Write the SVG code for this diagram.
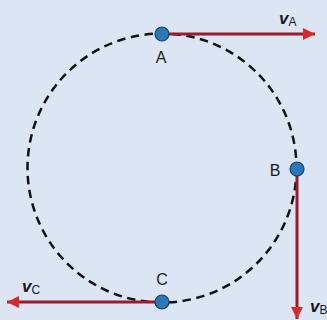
<svg xmlns="http://www.w3.org/2000/svg" width="327" height="320" viewBox="0 0 327 320">
<defs>
<style>
.lbl{font-family:"Liberation Sans",Arial,sans-serif;font-size:16px;fill:#1a1a1a}
.v{font-family:"Liberation Sans",Arial,sans-serif;font-size:17px;font-weight:bold;font-style:italic;fill:#1a1a1a}
.sub{font-size:12px;font-weight:normal;font-style:normal}
.vec{stroke:#9e1b2c;stroke-width:3;fill:none}
.dot{fill:#2a78b8;stroke:#14406a;stroke-width:1.2}
</style>
<marker id="ah" viewBox="0 0 10 10" refX="10" refY="5" markerWidth="7.5" markerHeight="4" markerUnits="strokeWidth" orient="auto">
<path d="M0,0 L10,5 L0,10 Z" fill="#d42a2a"/>
</marker>
</defs>
<rect width="327" height="320" fill="#dbe5f3"/>
<g id="path">
<circle cx="162" cy="168" r="134.5" fill="none" stroke="#111" stroke-width="2.5" stroke-dasharray="8.5,5.5"/>
</g>
<g id="connectors">
<line class="vec" x1="162" y1="34" x2="315" y2="34" marker-end="url(#ah)"/>
<line class="vec" x1="297" y1="169" x2="297" y2="319" marker-end="url(#ah)"/>
<line class="vec" x1="162" y1="302" x2="7" y2="302" marker-end="url(#ah)"/>
</g>
<g id="A">
<circle class="dot" cx="162" cy="34" r="7"/>
<text class="lbl" x="161" y="63" text-anchor="middle">A</text>
<text class="v" x="279" y="24">v<tspan class="sub" dy="2">A</tspan></text>
</g>
<g id="B">
<circle class="dot" cx="297" cy="169" r="7"/>
<text class="lbl" x="275" y="176" text-anchor="middle">B</text>
<text class="v" x="310" y="312">v<tspan class="sub" dy="2">B</tspan></text>
</g>
<g id="C">
<circle class="dot" cx="162" cy="302" r="7"/>
<text class="lbl" x="162" y="285" text-anchor="middle">C</text>
<text class="v" x="22" y="292">v<tspan class="sub" dy="2">C</tspan></text>
</g>
</svg>
